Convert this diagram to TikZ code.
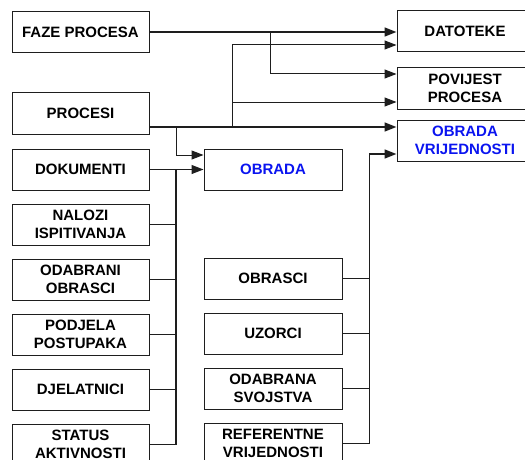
\documentclass[tikz,border=0pt]{standalone}
\usepackage{fontspec}
\setmainfont{Liberation Sans}
\usetikzlibrary{arrows.meta}
\definecolor{sysBlueText}{HTML}{0A14F0}
\definecolor{sysLine}{HTML}{1E1E1E}
\tikzset{
  data box/.style={
    draw=sysLine, line width=1pt,
    minimum width=137pt, minimum height=41pt, inner sep=0pt,
    align=center, font=\fontsize{15}{18}\selectfont\bfseries,
  },
  flow arrow/.style={
    -{Triangle[length=12pt, width=9pt]},
    line width=1pt, sysLine,
  },
  bus line/.style={line width=1pt, sysLine},
  main line/.style={line width=1.7pt},
}

\begin{document}
\begin{tikzpicture}[x=1pt, y=-1pt]

\useasboundingbox (0,0) rectangle (525,460);

% Column centres
\def\colL{80.5}
\def\colM{273}
\def\colR{465}

% Left column
\node[data box] (faze) at (\colL, 32) {FAZE PROCESA};
\node[data box] (proc) at (\colL, 113.5) {PROCESI};
\foreach \n/\t/\y in {dok/DOKUMENTI/169.5, nal/{NALOZI\\ISPITIVANJA}/224.5,
    oda/{ODABRANI\\OBRASCI}/279.5, pod/{PODJELA\\POSTUPAKA}/334.5,
    dje/DJELATNICI/389.5, sta/{STATUS\\AKTIVNOSTI}/444.5} {
  \node[data box] (\n) at (\colL, \y) {\t};
}

% Middle column
\node[data box, minimum width=138pt, text=sysBlueText] (obr) at (\colM, 169.5) {OBRADA};
\foreach \n/\t/\y in {obs/OBRASCI/278.5, uzo/UZORCI/333.5,
    svo/{ODABRANA\\SVOJSTVA}/388.5, ref/{REFERENTNE\\VRIJEDNOSTI}/443.5} {
  \node[data box, minimum width=138pt] (\n) at (\colM, \y) {\t};
}

% Right column
\node[data box, minimum width=136pt] (dat) at (\colR, 31.5) {DATOTEKE};
\node[data box, minimum width=136pt] (pov) at (\colR, 88.5) {POVIJEST\\PROCESA};
\node[data box, minimum width=136pt, text=sysBlueText] (ovr) at (\colR, 140.5) {OBRADA\\VRIJEDNOSTI};

% Junctions
\coordinate (fazeSplit) at (270, 32);
\coordinate (procA) at (176, 127);
\coordinate (procB) at (232, 127);
\coordinate (procC) at (232, 102);
\coordinate (datIn) at ([yshift=-13.5pt]dat.west);
\coordinate (povIn) at ([yshift=14.5pt]pov.west);
\coordinate (povLow) at ([yshift=-13.5pt]pov.west);
\coordinate (ovrIn) at ([yshift=-13.5pt]ovr.west);
\coordinate (obrIn) at ([yshift=14.5pt]obr.west);

% FAZE PROCESA -> DATOTEKE, POVIJEST PROCESA
\draw[flow arrow, main line] (faze.east) -- (faze.east -| dat.west);
\draw[flow arrow] (fazeSplit) |- (povIn);

% PROCESI -> OBRADA VRIJEDNOSTI, DATOTEKE, POVIJEST PROCESA, OBRADA
\draw[flow arrow, main line] ([yshift=-13.5pt]proc.east) -- ([yshift=13.5pt]ovr.west);
\draw[flow arrow] (procB) |- (datIn);
\draw[flow arrow] (procC) -- (povLow);
\draw[flow arrow] (procA) |- (obrIn);

% Left bus -> OBRADA
\draw[flow arrow] (dok.east) -- (obr.west);
\draw[bus line, main line] (sta.east) -| (dok.east -| procA);
\foreach \n in {nal, oda, pod, dje} {
  \draw[bus line] (\n.east) -- (\n.east -| procA);
}

% Middle bus -> OBRADA VRIJEDNOSTI
\draw[flow arrow, main line] (ref.east) -- ++(27,0) |- (ovrIn);
\foreach \n in {obs, uzo, svo} {
  \draw[bus line] (\n.east) -- ++(27,0);
}

\end{tikzpicture}
\end{document}
